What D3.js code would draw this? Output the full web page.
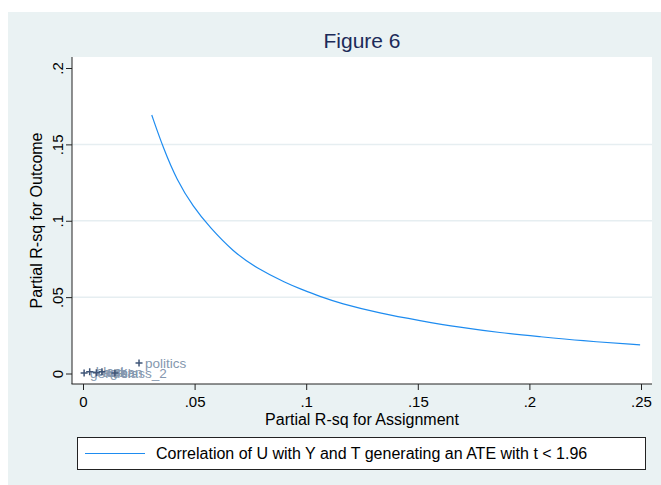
<!DOCTYPE html>
<html>
<head>
<meta charset="utf-8">
<script src="https://cdn.jsdelivr.net/npm/d3@7"></script>
<style>
  body { margin: 0; background: #fff; }
  svg { display: block; font-family: "Liberation Sans", Arial, sans-serif; }
</style>
</head>
<body>
<svg width="661" height="485"></svg>
<script>
// curve: partial R-sq pairs
var curveX = [0.0308, 0.0360, 0.0420, 0.0494, 0.0569, 0.0673, 0.0778, 0.0913, 0.0972, 0.1062,
              0.1151, 0.1331, 0.1510, 0.1689, 0.1868, 0.2048, 0.2227, 0.2496];
var curveY = [0.1692, 0.1474, 0.1267, 0.1090, 0.0955, 0.0797, 0.0689, 0.0590, 0.0555, 0.0503,
              0.0460, 0.0394, 0.0346, 0.0302, 0.0267, 0.0241, 0.0215, 0.0187];

// covariates plotted as markers
var covNames = ["gender", "black", "age", "urban", "class_2", "politics"];
var covX = [0.0005, 0.0030, 0.0060, 0.0085, 0.0143, 0.0251];
var covY = [0.0004, 0.0012, 0.0005, 0.0011, 0.0003, 0.0069];

var xTicks = [0, 0.05, 0.1, 0.15, 0.2, 0.25];
var yTicks = [0, 0.05, 0.1, 0.15, 0.2];

var titleText = "Figure 6",
    xTitle = "Partial R-sq for Assignment",
    yTitle = "Partial R-sq for Outcome",
    legendText = "Correlation of U with Y and T generating an ATE with t < 1.96";

var svg = d3.select("svg");

var plot = {left: 72, top: 57, right: 652, bottom: 384};

var x = d3.scaleLinear().domain([0, 0.25]).range([83, 641]),
    y = d3.scaleLinear().domain([0, 0.2]).range([373.5, 68]);

// stata style numbers: drop the leading zero
var fmt = function(d) { return d === 0 ? "0" : String(d).replace(/^0/, ""); };

var curveData = curveX.map(function(d, i) { return {x: d, y: curveY[i]}; });
var covData = covNames.map(function(d, i) { return {name: d, x: covX[i], y: covY[i]}; });

// graph region
svg.append("rect")
    .attr("x", 8)
    .attr("y", 12)
    .attr("width", 653)
    .attr("height", 473)
    .attr("fill", "#eaf2f3");

svg.append("rect")
    .attr("x", plot.left)
    .attr("y", plot.top)
    .attr("width", plot.right - plot.left)
    .attr("height", plot.bottom - plot.top)
    .attr("fill", "#fff");

// grid lines
svg.append("g")
    .selectAll("line")
    .data(yTicks.filter(function(d) { return d > 0 && d < 0.2; }))
  .enter().append("line")
    .attr("x1", plot.left)
    .attr("x2", plot.right)
    .attr("y1", function(d) { return y(d); })
    .attr("y2", function(d) { return y(d); })
    .attr("stroke", "#e6eef1")
    .attr("stroke-width", 1.5);

svg.append("text")
    .attr("x", (plot.left + plot.right) / 2)
    .attr("y", 48)
    .attr("text-anchor", "middle")
    .attr("font-size", 21)
    .attr("fill", "#1c2b59")
    .text(titleText);

// x axis
var xAxisG = svg.append("g")
    .attr("transform", "translate(0," + plot.bottom + ")")
    .call(d3.axisBottom(x).tickValues(xTicks).tickFormat(fmt).tickSize(6).tickPadding(6));
xAxisG.select(".domain").remove();
xAxisG.selectAll("line").attr("stroke", "#222");
xAxisG.selectAll("text")
    .attr("font-size", 15)
    .attr("font-family", "Liberation Sans, Arial, sans-serif")
    .attr("fill", "#000");
svg.append("line")
    .attr("x1", plot.left - 0.5)
    .attr("x2", plot.right)
    .attr("y1", plot.bottom)
    .attr("y2", plot.bottom)
    .attr("stroke", "#222");

// y axis, labels turned like stata does
var yAxisG = svg.append("g")
    .attr("transform", "translate(" + plot.left + ",0)")
    .call(d3.axisLeft(y).tickValues(yTicks).tickFormat(fmt).tickSize(6));
yAxisG.select(".domain").remove();
yAxisG.selectAll("line").attr("stroke", "#222");
yAxisG.selectAll("text")
    .attr("transform", "rotate(-90)")
    .attr("x", 0)
    .attr("y", -9)
    .attr("dy", 0)
    .attr("text-anchor", "middle")
    .attr("font-size", 15)
    .attr("font-family", "Liberation Sans, Arial, sans-serif")
    .attr("fill", "#000");
svg.append("line")
    .attr("x1", plot.left)
    .attr("x2", plot.left)
    .attr("y1", plot.top)
    .attr("y2", plot.bottom)
    .attr("stroke", "#222");

svg.append("text")
    .attr("x", (plot.left + plot.right) / 2)
    .attr("y", 425)
    .attr("text-anchor", "middle")
    .attr("font-size", 16)
    .text(xTitle);

svg.append("text")
    .attr("transform", "translate(42," + (plot.top + plot.bottom) / 2 + ") rotate(-90)")
    .attr("text-anchor", "middle")
    .attr("font-size", 16)
    .text(yTitle);

// the curve
var line = d3.line()
    .curve(d3.curveBasis)
    .x(function(d) { return x(d.x); })
    .y(function(d) { return y(d.y); });

svg.append("path")
    .datum(curveData)
    .attr("d", line)
    .attr("fill", "none")
    .attr("stroke", "#1e8cf0")
    .attr("stroke-width", 1.2);

// covariate markers with labels on the right
var cov = svg.append("g")
    .selectAll("g")
    .data(covData)
  .enter().append("g")
    .attr("transform", function(d) { return "translate(" + x(d.x) + "," + y(d.y) + ")"; });

cov.append("path")
    .attr("d", "M-3.5,0H3.5M0,-3.5V3.5")
    .attr("stroke", "#3f5577")
    .attr("stroke-width", 1.5);

cov.append("text")
    .attr("x", 6)
    .attr("dy", "0.35em")
    .attr("font-size", 13.5)
    .attr("fill", "#8497ae")
    .text(function(d) { return d.name; });

// legend
svg.append("rect")
    .attr("x", 77.5)
    .attr("y", 437.5)
    .attr("width", 568)
    .attr("height", 32)
    .attr("fill", "#fff")
    .attr("stroke", "#222");

svg.append("line")
    .attr("x1", 85)
    .attr("x2", 145)
    .attr("y1", 453.5)
    .attr("y2", 453.5)
    .attr("stroke", "#1e8cf0")
    .attr("stroke-width", 1.2);

svg.append("text")
    .attr("x", 156)
    .attr("y", 459)
    .attr("font-size", 16)
    .text(legendText);
</script>
</body>
</html>
